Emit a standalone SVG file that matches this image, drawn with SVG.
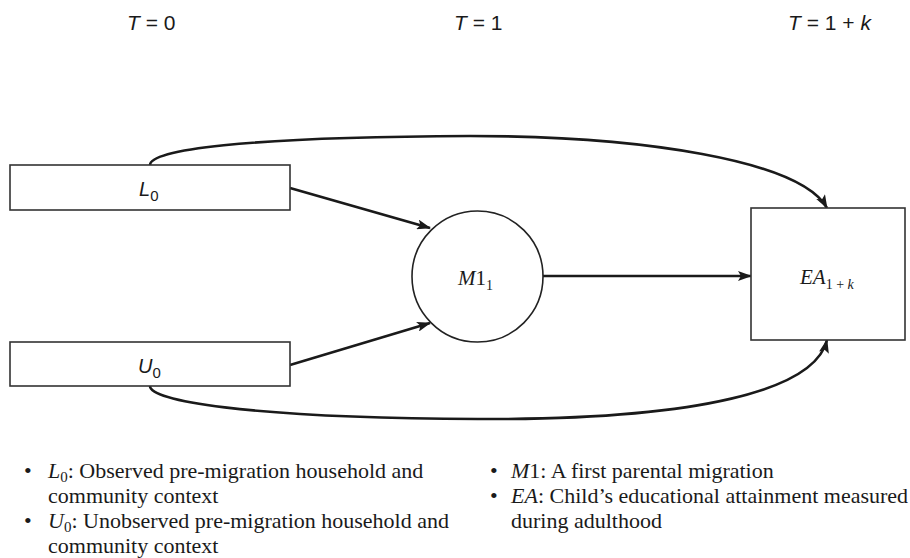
<svg xmlns="http://www.w3.org/2000/svg" width="910" height="558" viewBox="0 0 910 558">
<style>
.box{fill:#fff;stroke:#333;stroke-width:1.6}
.circ{fill:#fff;stroke:#222;stroke-width:1.6}
.conn{fill:none;stroke:#1a1a1a;stroke-width:2.6}
.hdr{font-family:"Liberation Sans",Arial,sans-serif;font-size:21px;fill:#1a1a1a}
.lab{font-family:"Liberation Sans",Arial,sans-serif;font-size:20px;fill:#1a1a1a}
.ser{font-family:"Liberation Serif","Times New Roman",serif;font-size:21px;fill:#1a1a1a}
.leg{font-family:"Liberation Serif","Times New Roman",serif;font-size:22px;fill:#1a1a1a}
.i{font-style:italic}
</style>
<defs>
<marker id="ah" markerUnits="userSpaceOnUse" markerWidth="14" markerHeight="10" refX="13" refY="5" orient="auto">
<path d="M0,0 L14,5 L0,10 L3,5 Z" fill="#1a1a1a"/>
</marker>
</defs>

<g id="headers">
<text class="hdr" x="127" y="30"><tspan class="i">T</tspan> = 0</text>
<text class="hdr" x="454" y="30"><tspan class="i">T</tspan> = 1</text>
<text class="hdr" x="788" y="30"><tspan class="i">T</tspan> = 1 + <tspan class="i">k</tspan></text>
</g>

<g id="connectors">
<path class="conn" d="M290,188 L430,228" marker-end="url(#ah)"/>
<path class="conn" d="M290,365 L430,323" marker-end="url(#ah)"/>
<path class="conn" d="M543,276 L751,276" marker-end="url(#ah)"/>
<path class="conn" d="M150,165 C150,150 240,137 470,136 C640,136 800,160 827,208" marker-end="url(#ah)"/>
<path class="conn" d="M150,386 C150,400 240,418 478,419 C700,420 815,390 827,340" marker-end="url(#ah)"/>
</g>

<g id="node-L0">
<rect class="box" x="10" y="165" width="280" height="45"/>
<text class="lab" x="139" y="196"><tspan class="i">L</tspan><tspan font-size="15" dy="5">0</tspan></text>
</g>

<g id="node-U0">
<rect class="box" x="10" y="342" width="280" height="44"/>
<text class="lab" x="138" y="373"><tspan class="i">U</tspan><tspan font-size="15" dy="5">0</tspan></text>
</g>

<g id="node-M1">
<circle class="circ" cx="477.5" cy="276.5" r="65.5"/>
<text class="ser" x="458" y="285"><tspan class="i">M</tspan>1<tspan font-size="14" dy="5">1</tspan></text>
</g>

<g id="node-EA">
<rect class="box" x="751" y="208" width="154" height="132"/>
<text class="ser" x="800" y="284"><tspan class="i">EA</tspan><tspan font-size="14" dy="5">1 + <tspan class="i">k</tspan></tspan></text>
</g>

<g id="legend">
<text class="leg" x="24" y="478">•</text>
<text class="leg" x="48" y="478"><tspan class="i">L</tspan><tspan font-size="15" dy="4">0</tspan><tspan dy="-4">: Observed pre-migration household and</tspan></text>
<text class="leg" x="48" y="503">community context</text>
<text class="leg" x="24" y="528">•</text>
<text class="leg" x="48" y="528"><tspan class="i">U</tspan><tspan font-size="15" dy="4">0</tspan><tspan dy="-4">: Unobserved pre-migration household and</tspan></text>
<text class="leg" x="48" y="553">community context</text>
<text class="leg" x="490" y="478">•</text>
<text class="leg" x="511" y="478"><tspan class="i">M</tspan>1: A first parental migration</text>
<text class="leg" x="490" y="503">•</text>
<text class="leg" x="511" y="503"><tspan class="i">EA</tspan>: Child’s educational attainment measured</text>
<text class="leg" x="511" y="528">during adulthood</text>
</g>
</svg>
